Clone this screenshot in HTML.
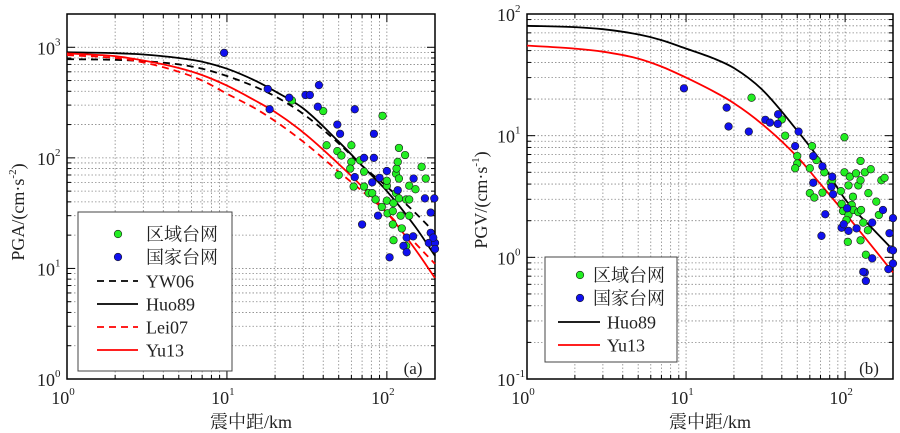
<!DOCTYPE html>
<html><head><meta charset="utf-8">
<style>
html,body{margin:0;padding:0;background:#fff;}
svg{display:block;font-family:"Liberation Serif","Noto Serif CJK SC",serif;}
</style></head>
<body>
<svg id="chart" width="900" height="433" viewBox="0 0 900 433" xmlns="http://www.w3.org/2000/svg"></svg>
<script>
// ---- Panel (a) PGA data ----
const curveX = [1, 2, 3, 5, 7, 10, 15, 20, 30, 50, 70, 100, 150, 200];
const pgaHuo89 = [900, 885, 860, 800, 740, 640, 500, 400, 280, 140, 85, 50, 24, 13];
const pgaYW06 = [780, 770, 750, 700, 640, 550, 440, 360, 250, 135, 85, 55, 32, 21];
const pgaLei07 = [850, 800, 730, 600, 500, 380, 280, 215, 140, 75, 50, 32, 17, 11];
const pgaYu13 = [880, 830, 760, 650, 560, 450, 330, 260, 170, 88, 55, 32, 15, 8.2];
const pgaRegionalX = [25.5,40,94,42,49,52,60,60,59,50,62,72,72,68,77,81,85,93,100,100,100,101,109,110,109,114,114,115,117,119,119,119,122,124,130,132,138,138,138,151,165,175,132,110];
const pgaRegionalY = [330,265,240,130,115,105,130,92,80,70,55,55,75,95,48,48,42,36,41,56,62,31.5,25,39,33,48,72,80,92,123,65,43,30,23,106,42,42,56,30,52,83,65,16,18];
const pgaNationalX = [9.6,18,18.5,24.5,31,33,37.6,37,49,51,63,83,72,83,63,70,90,100,81,88,104,117,133,127,133,146,147,173,188,188,183,198,200,200,195];
const pgaNationalY = [890,420,275,350,370,370,455,290,200,165,275,165,100,100,67,25,66,76,60,30,12.6,51,19,16,14,19.5,65,43,32,21,17,43,17,15,19];
// ---- Panel (b) PGV data ----
const pgvHuo89 = [80, 78, 75, 68, 61, 52, 43, 36, 24, 11, 6.2, 3.0, 1.7, 1.15];
const pgvYu13 = [55, 52, 49, 43, 37, 30, 23, 18.5, 12.5, 6.7, 4.0, 2.3, 1.2, 0.75];
const pgvRegionalX = [25.8,40,42,99,62,50,50,48.5,60,66,74,60,64,72,81,83,94,99,105,107,117,125,121,125,133,145,140,157,163,169,177,95,97,105,102,110,113,121,126,130,139,125,104,135,112];
const pgvRegionalY = [20.5,13.6,10,9.7,8.2,6.8,5.9,5.4,5.4,6.3,5.0,3.37,3.1,3.4,4.1,4.3,3.5,5.0,3.9,4.6,4.9,6.2,3.9,4.3,5.0,5.3,3.37,2.87,2.23,4.3,4.5,2.75,2.4,2.23,2.03,2.7,2.45,2.35,2.45,1.93,1.67,1.38,1.34,1.05,3.15];
const pgvNationalX = [9.7,18,18.5,24.8,31.5,33.7,37.7,37.9,51,48.5,63,72,63,83,82,84,75,71,95,98,103,105,118,133,130,135,148,148,173,190,187,194,200,200,200];
const pgvNationalY = [24.5,17,11.9,10.8,13.5,12.8,12.5,15,10.8,8.2,6.8,5.6,4.1,4.6,3.8,3.3,2.26,1.5,1.75,1.87,2.53,1.65,1.73,0.75,0.76,0.64,0.98,1.93,2.45,1.58,0.8,1.16,1.14,2.1,0.89];
const xTickExp = [0, 1, 2];
const yTickExpA = [0, 1, 2, 3];
const yTickExpB = [-1, 0, 1, 2];

const NS = "http://www.w3.org/2000/svg";
const svg = document.getElementById('chart');
function mk(tag, attrs, parent) {
  const e = document.createElementNS(NS, tag);
  for (const k in attrs) e.setAttribute(k, attrs[k]);
  (parent || svg).appendChild(e);
  return e;
}
function makeAxes(left, right, top, bottom, xmin, xmax, ymin, ymax) {
  const lx0 = Math.log10(xmin), lx1 = Math.log10(xmax), ly0 = Math.log10(ymin), ly1 = Math.log10(ymax);
  return {
    x: v => left + (Math.log10(v) - lx0) / (lx1 - lx0) * (right - left),
    y: v => bottom - (Math.log10(v) - ly0) / (ly1 - ly0) * (bottom - top),
    left, right, top, bottom, xmin, xmax, ymin, ymax
  };
}
function drawPanel(name, ax, yExps, ylabel, ylabelPos) {
  const g = mk('g', {});
  
  
  const grid = mk('g', {stroke: '#888', 'stroke-width': 0.8, 'stroke-dasharray': '1.5,2'}, g);
  
  
  const ticks = mk('g', {stroke: '#000', 'stroke-width': 1}, g);
  for (let d = 1; d <= 1000; d *= 10) for (let m = 1; m < 10; m++) {
    const v = d * m; if (v <= ax.xmin || v >= ax.xmax) continue;
    const px = ax.x(v);
    mk('line', {x1: px, x2: px, y1: ax.top, y2: ax.bottom}, grid);
    const len = m === 1 ? 8 : 4;
    mk('line', {x1: px, x2: px, y1: ax.bottom, y2: ax.bottom - len}, ticks);
    mk('line', {x1: px, x2: px, y1: ax.top, y2: ax.top + len}, ticks);
  }
  for (let d = 0.1; d <= 1000; d *= 10) for (let m = 1; m < 10; m++) {
    const v = d * m; if (v <= ax.ymin * 1.0001 || v >= ax.ymax * 0.9999) continue;
    const py = ax.y(v);
    mk('line', {x1: ax.left, x2: ax.right, y1: py, y2: py}, grid);
    const len = m === 1 ? 8 : 4;
    mk('line', {x1: ax.left, x2: ax.left + len, y1: py, y2: py}, ticks);
    mk('line', {x1: ax.right, x2: ax.right - len, y1: py, y2: py}, ticks);
  }
  const frame = mk('rect', {x: ax.left, y: ax.top, width: ax.right - ax.left, height: ax.bottom - ax.top, fill: 'none', stroke: '#000', 'stroke-width': 1.5}, g);
  
  
  xTickExp.forEach(e => {
    const t = mk('text', {x: ax.x(Math.pow(10, e)) - 4, y: ax.bottom + 25, 'font-size': 18, 'text-anchor': 'middle', fill: '#222'}, g);
    
    
    t.textContent = '10';
    const s = mk('tspan', {'font-size': 11, dy: -9}, t); s.textContent = String(e);
  });
  yExps.forEach(e => {
    const t = mk('text', {x: ax.left - 12, y: ax.y(Math.pow(10, e)) + 7, 'font-size': 18, 'text-anchor': 'end', fill: '#222'}, g);
    
    
    t.textContent = '10';
    const s = mk('tspan', {'font-size': 11, dy: -9, x: ax.left - 12 + (e < 0 ? 1 : 0)}, t);
    s.setAttribute('text-anchor', 'start'); s.textContent = String(e);
  });
  const xl = mk('text', {x: (ax.left + ax.right) / 2, y: 428, 'font-size': 18, 'text-anchor': 'middle', fill: '#222'}, g);
  
  
  xl.textContent = '震中距/km';
  const yl = mk('text', {x: 0, y: 0, 'font-size': 18, 'text-anchor': 'middle', fill: '#222', transform: `translate(${ylabelPos[0]},${ylabelPos[1]}) rotate(-90)`}, g);
  
  
  yl.textContent = ylabel[0];
  const sp = mk('tspan', {'font-size': 11, dy: -8}, yl); sp.textContent = ylabel[1];
  const sp2 = mk('tspan', {dy: 8}, yl); sp2.textContent = ')';
}
function drawCurve(ax, ys, color, dash, name) {
  const px = curveX.map(v => ax.x(v)), py = ys.map(v => ax.y(v));
  const n = px.length, dl = [], m = [];
  for (let i = 0; i < n - 1; i++) dl.push((py[i + 1] - py[i]) / (px[i + 1] - px[i]));
  m[0] = dl[0]; m[n - 1] = dl[n - 2];
  for (let i = 1; i < n - 1; i++) m[i] = dl[i - 1] * dl[i] <= 0 ? 0 : (dl[i - 1] + dl[i]) / 2;
  for (let i = 0; i < n - 1; i++) {
    if (dl[i] === 0) { m[i] = 0; m[i + 1] = 0; continue; }
    const a = m[i] / dl[i], b = m[i + 1] / dl[i], s = a * a + b * b;
    if (s > 9) { const t = 3 / Math.sqrt(s); m[i] = t * a * dl[i]; m[i + 1] = t * b * dl[i]; }
  }
  let path = 'M' + px[0].toFixed(1) + ',' + py[0].toFixed(1);
  for (let i = 0; i < n - 1; i++) {
    const h = (px[i + 1] - px[i]) / 3;
    path += `C${(px[i] + h).toFixed(1)},${(py[i] + m[i] * h).toFixed(1)} ${(px[i + 1] - h).toFixed(1)},${(py[i + 1] - m[i + 1] * h).toFixed(1)} ${px[i + 1].toFixed(1)},${py[i + 1].toFixed(1)}`;
  }
  const a = {d: path, fill: 'none', stroke: color, 'stroke-width': 1.8};
  if (dash) a['stroke-dasharray'] = '7,5';
  const p = mk('path', a);
  
  
}
function drawPoints(ax, xs, ys, fill, name) {
  const g = mk('g', {});
  
  
  xs.forEach((v, i) => {
    const c = mk('circle', {cx: ax.x(v), cy: ax.y(ys[i]), r: 3.8, fill: fill, stroke: '#1a1a1a', 'stroke-width': 0.6}, g);
    
    
  });
}
function drawLegend(name, box, items) {
  const g = mk('g', {});
  
  
  mk('rect', {x: box[0], y: box[1], width: box[2], height: box[3], fill: '#fff', stroke: '#444', 'stroke-width': 1}, g);
  items.forEach(it => {
    const e = mk('g', {}, g);
    
    
    if (it.type === 'dot') mk('circle', {cx: it.mx, cy: it.y, r: 3.8, fill: it.color, stroke: '#1a1a1a', 'stroke-width': 0.6}, e);
    else {
      const a = {x1: it.lx0, x2: it.lx1, y1: it.y, y2: it.y, stroke: it.color, 'stroke-width': 1.8};
      if (it.dash) a['stroke-dasharray'] = '7,5';
      mk('line', a, e);
    }
    const t = mk('text', {x: it.tx, y: it.y + 6.5, 'font-size': 18, fill: '#222'}, e);
    t.textContent = it.label;
  });
}

// Panel (a)
const axA = makeAxes(67, 435, 14, 379, 1, 200, 1, 2000);
drawPanel('pga', axA, yTickExpA, ['PGA/(cm·s', '-2'], [24, 212]);
drawCurve(axA, pgaYW06, '#000', true, 'pga-yw06-curve');
drawCurve(axA, pgaHuo89, '#000', false, 'pga-huo89-curve');
drawCurve(axA, pgaLei07, '#f00', true, 'pga-lei07-curve');
drawCurve(axA, pgaYu13, '#f00', false, 'pga-yu13-curve');
drawPoints(axA, pgaRegionalX, pgaRegionalY, '#22ee22', 'pga-regional-points');
drawPoints(axA, pgaNationalX, pgaNationalY, '#1010ee', 'pga-national-points');
drawLegend('pga-legend', [78, 212, 154, 159], [
  {type: 'dot', mx: 118, y: 234, color: '#22ee22', tx: 146, label: '区域台网'},
  {type: 'dot', mx: 118, y: 257, color: '#1010ee', tx: 146, label: '国家台网'},
  {type: 'line', lx0: 97, lx1: 138, y: 281, color: '#000', dash: true, tx: 146, label: 'YW06'},
  {type: 'line', lx0: 97, lx1: 138, y: 304, color: '#000', dash: false, tx: 146, label: 'Huo89'},
  {type: 'line', lx0: 97, lx1: 138, y: 327, color: '#f00', dash: true, tx: 146, label: 'Lei07'},
  {type: 'line', lx0: 97, lx1: 138, y: 350, color: '#f00', dash: false, tx: 146, label: 'Yu13'}
]);
const la = mk('text', {x: 413, y: 374, 'font-size': 17, 'text-anchor': 'middle', fill: '#222'});


la.textContent = '(a)';

// Panel (b)
const axB = makeAxes(527, 893, 14, 379, 1, 200, 0.1, 100);
drawPanel('pgv', axB, yTickExpB, ['PGV/(cm·s', '-1'], [487, 200]);
drawCurve(axB, pgvHuo89, '#000', false, 'pgv-huo89-curve');
drawCurve(axB, pgvYu13, '#f00', false, 'pgv-yu13-curve');
drawPoints(axB, pgvRegionalX, pgvRegionalY, '#22ee22', 'pgv-regional-points');
drawPoints(axB, pgvNationalX, pgvNationalY, '#1010ee', 'pgv-national-points');
drawLegend('pgv-legend', [545, 257, 132, 105], [
  {type: 'dot', mx: 580, y: 275, color: '#22ee22', tx: 593, label: '区域台网'},
  {type: 'dot', mx: 580, y: 298, color: '#1010ee', tx: 593, label: '国家台网'},
  {type: 'line', lx0: 558, lx1: 600, y: 322, color: '#000', dash: false, tx: 607, label: 'Huo89'},
  {type: 'line', lx0: 558, lx1: 600, y: 345, color: '#f00', dash: false, tx: 607, label: 'Yu13'}
]);
const lb = mk('text', {x: 869, y: 374, 'font-size': 17, 'text-anchor': 'middle', fill: '#222'});


lb.textContent = '(b)';
</script>
</body></html>
